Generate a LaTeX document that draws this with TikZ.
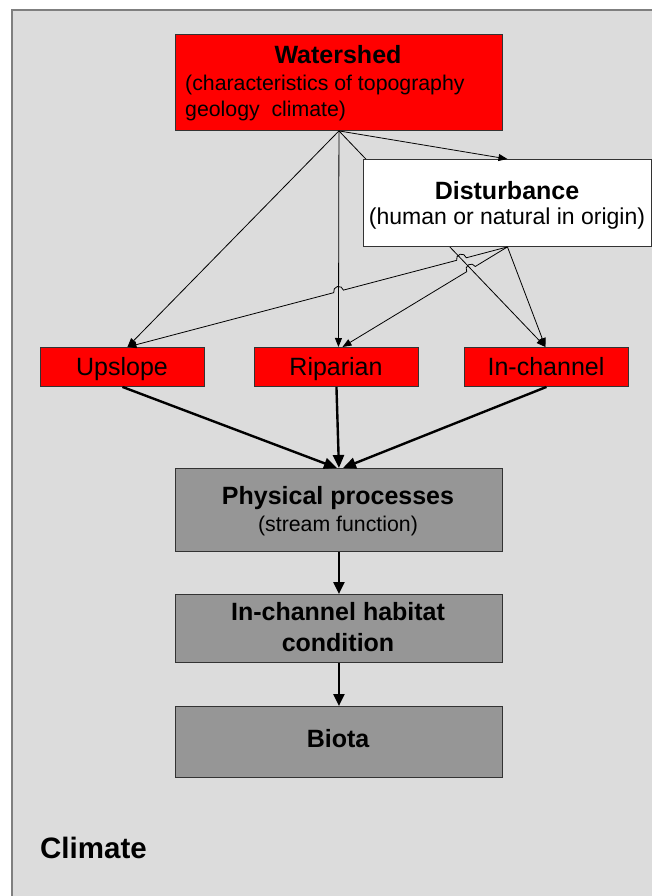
\documentclass[tikz,border=0pt]{standalone}
\usepackage{fontspec}
\setmainfont{Liberation Sans}
\usetikzlibrary{arrows.meta,calc}
\pgfdeclarelayer{bg}
\pgfdeclarelayer{back}
\pgfsetlayers{bg,back,main}
\definecolor{frameGray}{HTML}{DCDCDC}
\definecolor{frameEdge}{HTML}{7F7F7F}
\definecolor{boxGray}{HTML}{969696}
\definecolor{boxRed}{HTML}{FF0000}
\newcommand{\fsz}[1]{\fontsize{#1}{#1}\selectfont}
\tikzset{
  boxbase/.style={draw=black!80, line width=0.9pt, inner sep=0pt, anchor=north west},
  redbox/.style={boxbase, fill=boxRed},
  graybox/.style={boxbase, fill=boxGray},
  whitebox/.style={boxbase, fill=white},
  lbl/.style={inner sep=0pt, anchor=base},
  thinarrow/.style={line width=0.8pt, -{Triangle[length=9pt,width=7pt]}},
  thickarrow/.style={line width=2.4pt, -{Triangle[length=13pt,width=11pt]}},
  midarrow/.style={line width=2.2pt, -{Triangle[length=12pt,width=11pt]}},
}
\begin{document}
\begin{tikzpicture}[x=1pt,y=-1pt]
\useasboundingbox (0,0) rectangle (652,896);
\begin{pgfonlayer}{bg}
\fill[white] (0,0) rectangle (652,896);
\draw[fill=frameGray, draw=frameEdge, line width=2pt] (12,10) rectangle (656,900);
\end{pgfonlayer}

% boxes
\node[redbox, minimum width=327pt, minimum height=96pt] (ws) at (175,34) {};
\node[whitebox, minimum width=288pt, minimum height=87pt] (dist) at (363,159) {};
\node[redbox, minimum width=164pt, minimum height=39pt] (up) at (40,347) {};
\node[redbox, minimum width=164pt, minimum height=39pt] (rip) at (254,347) {};
\node[redbox, minimum width=164pt, minimum height=39pt] (inch) at (464,347) {};
\node[graybox, minimum width=327pt, minimum height=83pt] (phys) at (175,468) {};
\node[graybox, minimum width=327pt, minimum height=68pt] (hab) at (175,594) {};
\node[graybox, minimum width=327pt, minimum height=71pt] (bio) at (175,706) {};

% labels
\node[lbl] (wsT) at (338,64) {\fsz{25}\bfseries Watershed};
\node[lbl, anchor=base west] (wsA) at (185,91) {\fsz{21.3}(characteristics of topography};
\node[lbl, anchor=base west] (wsB) at (185,117) {\fsz{21.3}geology\hspace{0.55em}climate)};
\node[lbl] (distT) at (507,199) {\fsz{25}\bfseries Disturbance};
\node[lbl] (distA) at (507,224) {\fsz{23}(human or natural in origin)};
\node[lbl] (upT) at (122,375) {\fsz{25}Upslope};
\node[lbl] (ripT) at (336,375) {\fsz{25}Riparian};
\node[lbl] (inchT) at (546,375) {\fsz{25}In-channel};
\node[lbl] (physT) at (338,504) {\fsz{25}\bfseries Physical processes};
\node[lbl] (physA) at (338,531) {\fsz{21.3}(stream function)};
\node[lbl] (habT) at (338,620) {\fsz{25}\bfseries In-channel habitat};
\node[lbl] (habA) at (338,651) {\fsz{25}\bfseries condition};
\node[lbl] (bioT) at (338,747) {\fsz{25}\bfseries Biota};
\node[lbl, anchor=base west] (clim) at (40,858) {\fsz{29.5}\bfseries Climate};

% anchor points for connectors
\coordinate (wsS) at (ws.south);
\coordinate (dS) at (dist.south);
\coordinate (upN) at ($(up.north)+(5,0)$);
\coordinate (ripN) at ($(rip.north)+(2,0)$);
\coordinate (ripN2) at ($(rip.north)+(6,0)$);
\coordinate (inN) at ($(inch.north)+(-1,0)$);

% watershed -> in-channel, behind the disturbance box
\begin{pgfonlayer}{back}
\draw[thinarrow] (wsS) -- (inN);
\end{pgfonlayer}

% watershed -> others
\draw[thinarrow] (wsS) -- (dist.north);
\draw[thinarrow] (wsS) -- (upN);
\draw[thinarrow] (wsS) -- (ripN);

% disturbance -> in-channel
\draw[thinarrow] (dS) -- (inN);

% disturbance -> riparian (hop over watershed->in-channel)
\coordinate (h1) at (intersection of dS--ripN2 and wsS--inN);
\draw[thinarrow] let \p1=($(dS)-(h1)$), \n1={atan2(\y1,\x1)} in
  (dS) -- ($(h1)!5pt!(dS)$) arc[start angle=\n1, delta angle=180, radius=5pt] -- (ripN2);

% disturbance -> upslope (hops over watershed->in-channel and watershed->riparian)
\coordinate (h2) at (intersection of dS--upN and wsS--inN);
\coordinate (h3) at (intersection of dS--upN and wsS--ripN);
\draw[thinarrow] let \p1=($(dS)-(h2)$), \n1={atan2(\y1,\x1)} in
  (dS) -- ($(h2)!5pt!(dS)$) arc[start angle=\n1, delta angle=180, radius=5pt]
  -- ($(h3)!5pt!(dS)$) arc[start angle=\n1, delta angle=180, radius=5pt] -- (upN);

% thick arrows
\draw[thickarrow] (up.south) -- ($(phys.north)+(-2,0)$);
\draw[thickarrow] (rip.south) -- (phys.north);
\draw[thickarrow] (inch.south) -- ($(phys.north)+(4,0)$);
\draw[midarrow] (phys.south) -- (hab.north);
\draw[midarrow] (hab.south) -- (bio.north);
\end{tikzpicture}
\end{document}
